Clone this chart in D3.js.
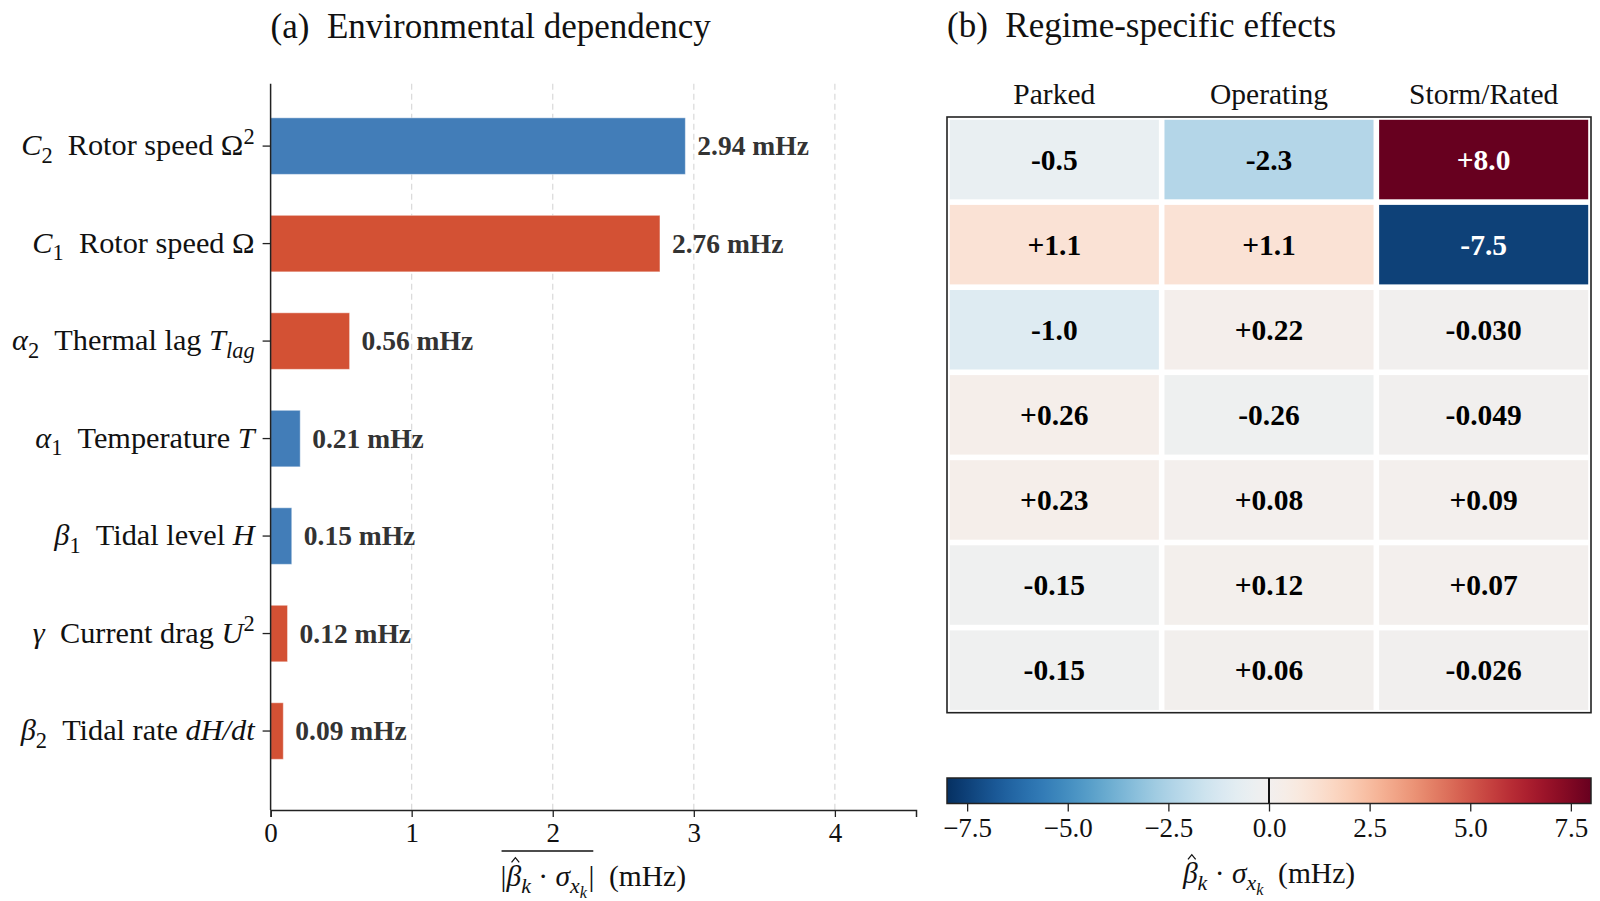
<!DOCTYPE html>
<html>
<head>
<meta charset="utf-8">
<script src="https://cdn.jsdelivr.net/npm/d3@7/dist/d3.min.js"></script>
<style>
  body { margin: 0; background: #fff; }
  text { font-family: "Liberation Serif", "Times New Roman", serif; white-space: pre; }
</style>
</head>
<body>
<div id="chart"></div>
<script>
// data for panel (a)
var barValues = [2.94, 2.76, 0.56, 0.21, 0.15, 0.12, 0.09];
// sign of the effect sets the bar colour
var barSigns = [-1, 1, 1, -1, -1, 1, 1];
// label pieces: [text, style]
var barLabels = [
  [["C", "i"], ["2", "sub"], ["  Rotor speed Ω", ""], ["2", "sup"]],
  [["C", "i"], ["1", "sub"], ["  Rotor speed Ω", ""]],
  [["α", "i"], ["2", "sub"], ["  Thermal lag ", ""], ["T", "i"], ["lag", "isub"]],
  [["α", "i"], ["1", "sub"], ["  Temperature ", ""], ["T", "i"]],
  [["β", "i"], ["1", "sub"], ["  Tidal level ", ""], ["H", "i"]],
  [["γ", "i"], ["  Current drag ", ""], ["U", "i"], ["2", "sup"]],
  [["β", "i"], ["2", "sub"], ["  Tidal rate ", ""], ["dH/dt", "i"]]
];
var xTicks = [0, 1, 2, 3, 4];

// data for panel (b)
var regimes = ["Parked", "Operating", "Storm/Rated"];
var parkedVals = [-0.5, 1.1, -1.0, 0.26, 0.23, -0.15, -0.15];
var operatingVals = [-2.3, 1.1, 0.22, -0.26, 0.08, 0.12, 0.06];
var stormVals = [8.0, -7.5, -0.030, -0.049, 0.09, 0.07, -0.026];
var cellText = [
  ["-0.5", "-2.3", "+8.0"],
  ["+1.1", "+1.1", "-7.5"],
  ["-1.0", "+0.22", "-0.030"],
  ["+0.26", "-0.26", "-0.049"],
  ["+0.23", "+0.08", "+0.09"],
  ["-0.15", "+0.12", "+0.07"],
  ["-0.15", "+0.06", "-0.026"]
];
var cbTicks = [-7.5, -5.0, -2.5, 0.0, 2.5, 5.0, 7.5];

// pieces for the axis labels (beta hat times sigma)
var effectPieces = [["β", "ihat"], ["k", "isub"], [" · ", ""], ["σ", "i"], ["x", "isub"], ["k", "isub2"]];

var width = 1600, height = 901;
var svg = d3.select("#chart").append("svg")
  .attr("width", width).attr("height", height);

// write a label made of styled pieces into a text node
function addPieces(textSel, pieces, size) {
  var shift = 0;
  pieces.forEach(function(p) {
    var t = textSel.append("tspan").text(p[0]);
    var target = 0;
    if (p[1] == "i") t.attr("font-style", "italic");
    if (p[1] == "ihat") t.attr("font-style", "italic").attr("class", "hat");
    if (p[1] == "sub" || p[1] == "isub") { target = size * 0.25; t.attr("font-size", size * 0.74); }
    if (p[1] == "isub") t.attr("font-style", "italic");
    if (p[1] == "isub2") { target = size * 0.42; t.attr("font-size", size * 0.55).attr("font-style", "italic"); }
    if (p[1] == "sup") { target = -size * 0.38; t.attr("font-size", size * 0.74); }
    if (p.length > 2) t.attr("dx", size * p[2]);
    t.attr("dy", target - shift);
    shift = target;
  });
}

// hats drawn as small strokes above the marked letters
function drawHats(textSel, baseY, size) {
  textSel.selectAll("tspan.hat").each(function() {
    var bb = this.getBBox();
    var cx = bb.x + bb.width * 0.62;
    var w = size * 0.13;
    svg.append("path")
      .attr("d", "M" + (cx - w) + "," + (baseY - 0.8 * size) + "L" + cx + "," + (baseY - 0.96 * size) +
        "L" + (cx + w) + "," + (baseY - 0.8 * size))
      .attr("fill", "none").attr("stroke", "#111").attr("stroke-width", 1.3);
  });
}

// ---------- panel (a) ----------
var x0 = 270.6, x1 = 916, yTop = 83.7, yBot = 810;
var xScale = d3.scaleLinear().domain([0, 4.575]).range([x0, x1]);
var yScale = d3.scaleLinear().domain([-0.64, 6.81]).range([yTop, yBot]);
var barH = 0.58 * (yScale(1) - yScale(0));

// dashed grid
svg.append("g").selectAll("line").data(xTicks.slice(1)).enter().append("line")
  .attr("x1", function(d) { return xScale(d); }).attr("x2", function(d) { return xScale(d); })
  .attr("y1", yTop).attr("y2", yBot)
  .attr("stroke", "#d9d9d9").attr("stroke-width", 1.2).attr("stroke-dasharray", "6,4");

// bars
svg.append("g").selectAll("rect").data(barValues).enter().append("rect")
  .attr("x", xScale(0))
  .attr("y", function(d, i) { return yScale(i) - barH / 2; })
  .attr("width", function(d) { return xScale(d) - xScale(0); })
  .attr("height", barH)
  .attr("fill", function(d, i) { return barSigns[i] < 0 ? "#427db8" : "#d35134"; })
  .attr("stroke", "#ffffff").attr("stroke-opacity", 0.45).attr("stroke-width", 1);

// value labels
svg.append("g").selectAll("text").data(barValues).enter().append("text")
  .attr("x", function(d) { return xScale(d) + 12; })
  .attr("y", function(d, i) { return yScale(i) + 9; })
  .attr("font-size", 27.5).attr("font-weight", "bold").attr("fill", "#333333")
  .text(function(d) { return d.toFixed(2) + " mHz"; });

// axes
var xAxis = d3.axisBottom(xScale).tickValues(xTicks).tickFormat(d3.format("d")).tickSize(7).tickPadding(6);
var gx = svg.append("g").attr("transform", "translate(0," + yBot + ")").call(xAxis);
gx.select(".domain").attr("stroke", "#222").attr("stroke-width", 1.5);
gx.selectAll(".tick line").attr("stroke", "#222").attr("stroke-width", 1.3);
gx.selectAll(".tick text").attr("font-size", 27).attr("font-family", "Liberation Serif").attr("fill", "#111");

svg.append("line").attr("x1", x0).attr("x2", x0).attr("y1", yTop).attr("y2", yBot)
  .attr("stroke", "#222").attr("stroke-width", 1.5);
svg.append("g").selectAll("line").data(barValues).enter().append("line")
  .attr("x1", x0 - 8).attr("x2", x0)
  .attr("y1", function(d, i) { return yScale(i); }).attr("y2", function(d, i) { return yScale(i); })
  .attr("stroke", "#222").attr("stroke-width", 1.3);

// y labels
barLabels.forEach(function(lab, i) {
  var t = svg.append("text").attr("x", x0 - 16).attr("y", yScale(i) + 9)
    .attr("text-anchor", "end").attr("font-size", 30.3).attr("fill", "#111");
  addPieces(t, lab, 30.3);
});

// x label with overline
var xlY = 886;
var xl = svg.append("g");
var xlA = xl.append("text").attr("y", xlY).attr("font-size", 29.5).attr("fill", "#111");
addPieces(xlA, [["|", ""]].concat(effectPieces).concat([["|", "", 0.05]]), 29.5);
var xlB = xl.append("text").attr("y", xlY).attr("font-size", 29.5).attr("fill", "#111").text("  (mHz)");
var wA = xlA.node().getBBox().width, wB = xlB.node().getBBox().width;
var xlStart = (x0 + x1) / 2 - (wA + wB) / 2;
xlA.attr("x", xlStart);
xlB.attr("x", xlStart + wA);
var bbA = xlA.node().getBBox();
xl.append("line").attr("x1", bbA.x + 1).attr("x2", bbA.x + bbA.width - 1).attr("y1", 851).attr("y2", 851)
  .attr("stroke", "#111").attr("stroke-width", 1.5);
drawHats(xlA, xlY, 29.5);

// title
svg.append("text").attr("x", x0).attr("y", 38).attr("font-size", 35).attr("fill", "#111")
  .text("(a)  Environmental dependency");

// ---------- panel (b) ----------
var hx0 = 947, hx1 = 1591, hy0 = 117, hy1 = 712.7;
var colScale = d3.scaleBand().domain(regimes).range([hx0, hx1]);
var rowScale = d3.scaleBand().domain(d3.range(parkedVals.length)).range([hy0, hy1]);
var vmax = 8.0;
var color = function(v) { return d3.interpolateRdBu(1 - (v + vmax) / (2 * vmax)); };

var cells = [];
parkedVals.forEach(function(v, r) {
  [parkedVals[r], operatingVals[r], stormVals[r]].forEach(function(val, c) {
    cells.push({ r: r, c: regimes[c], v: val, label: cellText[r][c] });
  });
});
var gap = 2.8;
svg.append("g").selectAll("rect").data(cells).enter().append("rect")
  .attr("x", function(d) { return colScale(d.c) + gap; })
  .attr("y", function(d) { return rowScale(d.r) + gap; })
  .attr("width", colScale.bandwidth() - 2 * gap)
  .attr("height", rowScale.bandwidth() - 2 * gap)
  .attr("fill", function(d) { return color(d.v); });
svg.append("g").selectAll("text").data(cells).enter().append("text")
  .attr("x", function(d) { return colScale(d.c) + colScale.bandwidth() / 2; })
  .attr("y", function(d) { return rowScale(d.r) + rowScale.bandwidth() / 2 + 10; })
  .attr("text-anchor", "middle").attr("font-size", 29.5).attr("font-weight", "bold")
  .attr("fill", function(d) { return Math.abs(d.v) > 4 ? "#ffffff" : "#000000"; })
  .text(function(d) { return d.label; });
svg.append("rect").attr("x", hx0).attr("y", hy0).attr("width", hx1 - hx0).attr("height", hy1 - hy0)
  .attr("fill", "none").attr("stroke", "#222").attr("stroke-width", 1.6);

// column headers
svg.append("g").selectAll("text").data(regimes).enter().append("text")
  .attr("x", function(d) { return colScale(d) + colScale.bandwidth() / 2; })
  .attr("y", 104).attr("text-anchor", "middle").attr("font-size", 29.5).attr("fill", "#111")
  .text(function(d) { return d; });

svg.append("text").attr("x", hx0).attr("y", 37).attr("font-size", 35).attr("fill", "#111")
  .text("(b)  Regime-specific effects");

// colorbar
var cbY0 = 778, cbY1 = 803.5;
var cbScale = d3.scaleLinear().domain([-vmax, vmax]).range([hx0, hx1]);
var grad = svg.append("defs").append("linearGradient").attr("id", "cbgrad");
d3.range(0, 1.0001, 0.025).forEach(function(t) {
  grad.append("stop").attr("offset", t).attr("stop-color", color(-vmax + t * 2 * vmax));
});
svg.append("rect").attr("x", hx0).attr("y", cbY0).attr("width", hx1 - hx0).attr("height", cbY1 - cbY0)
  .attr("fill", "url(#cbgrad)").attr("stroke", "#222").attr("stroke-width", 1.5);
svg.append("line").attr("x1", cbScale(0)).attr("x2", cbScale(0)).attr("y1", cbY0).attr("y2", cbY1)
  .attr("stroke", "#111").attr("stroke-width", 2);
var cbAxis = d3.axisBottom(cbScale).tickValues(cbTicks)
  .tickFormat(function(d) { return d3.format(".1f")(d).replace("-", "\u2212"); })
  .tickSize(8).tickPadding(6);
var gcb = svg.append("g").attr("transform", "translate(0," + cbY1 + ")").call(cbAxis);
gcb.select(".domain").remove();
gcb.selectAll(".tick line").attr("stroke", "#222").attr("stroke-width", 1.3);
gcb.selectAll(".tick text").attr("font-size", 27).attr("font-family", "Liberation Serif").attr("fill", "#111");

var cbY = 883;
var cbl = svg.append("text").attr("x", (hx0 + hx1) / 2).attr("y", cbY)
  .attr("text-anchor", "middle").attr("font-size", 29.5).attr("fill", "#111");
addPieces(cbl, effectPieces.concat([["  (mHz)", ""]]), 29.5);
drawHats(cbl, cbY, 29.5);
</script>
</body>
</html>
